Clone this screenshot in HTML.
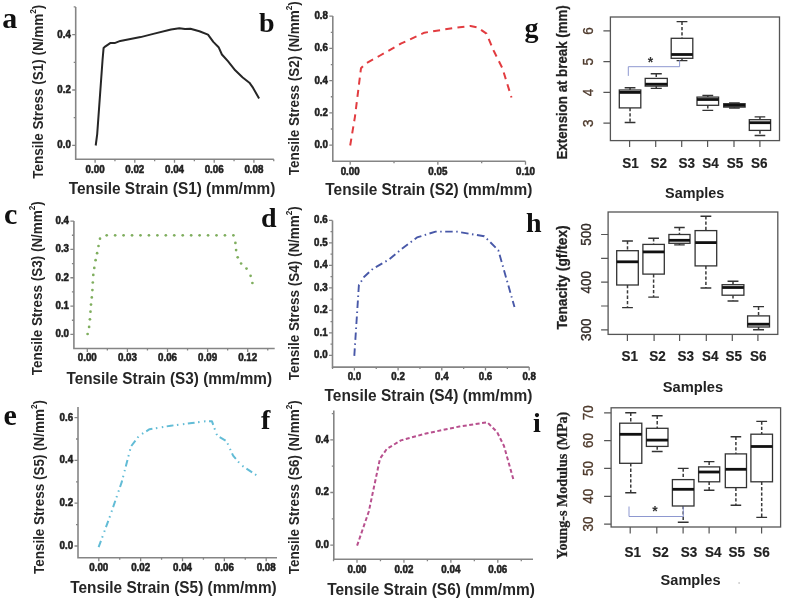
<!DOCTYPE html>
<html><head><meta charset="utf-8"><style>
html,body{margin:0;padding:0;background:#fff;}
body{width:789px;height:603px;overflow:hidden;}
svg{display:block;font-family:"Liberation Sans",sans-serif;filter:blur(0.45px);}
</style></head><body>
<svg width="789" height="603" viewBox="0 0 789 603">
<rect width="789" height="603" fill="#fff"/>
<path d="M75.7,7V159.3H273.8" fill="none" stroke="#858585" stroke-width="1.6"/>
<path d="M75.7,145.40h-3.5M75.7,90.00h-3.5M75.7,34.60h-3.5M75.7,117.70h-2M75.7,62.30h-2M75.7,6.90h-2M95.10,159.3v3.5M134.80,159.3v3.5M174.50,159.3v3.5M214.20,159.3v3.5M253.90,159.3v3.5M114.95,159.3v2M154.65,159.3v2M194.35,159.3v2M234.05,159.3v2M273.75,159.3v2" fill="none" stroke="#858585" stroke-width="1.3"/>
<text x="70.80" y="148.30" font-size="10.8" font-weight="bold" text-anchor="end" fill="#222" stroke="#222" stroke-width="0.55" textLength="13.50" lengthAdjust="spacingAndGlyphs">0.0</text>
<text x="70.80" y="92.90" font-size="10.8" font-weight="bold" text-anchor="end" fill="#222" stroke="#222" stroke-width="0.55" textLength="13.50" lengthAdjust="spacingAndGlyphs">0.2</text>
<text x="70.80" y="37.50" font-size="10.8" font-weight="bold" text-anchor="end" fill="#222" stroke="#222" stroke-width="0.55" textLength="13.50" lengthAdjust="spacingAndGlyphs">0.4</text>
<text x="95.10" y="172.70" font-size="10.8" font-weight="bold" text-anchor="middle" fill="#222" stroke="#222" stroke-width="0.55" textLength="19.00" lengthAdjust="spacingAndGlyphs">0.00</text>
<text x="134.80" y="172.70" font-size="10.8" font-weight="bold" text-anchor="middle" fill="#222" stroke="#222" stroke-width="0.55" textLength="19.00" lengthAdjust="spacingAndGlyphs">0.02</text>
<text x="174.50" y="172.70" font-size="10.8" font-weight="bold" text-anchor="middle" fill="#222" stroke="#222" stroke-width="0.55" textLength="19.00" lengthAdjust="spacingAndGlyphs">0.04</text>
<text x="214.20" y="172.70" font-size="10.8" font-weight="bold" text-anchor="middle" fill="#222" stroke="#222" stroke-width="0.55" textLength="19.00" lengthAdjust="spacingAndGlyphs">0.06</text>
<text x="253.90" y="172.70" font-size="10.8" font-weight="bold" text-anchor="middle" fill="#222" stroke="#222" stroke-width="0.55" textLength="19.00" lengthAdjust="spacingAndGlyphs">0.08</text>
<text x="68.7" y="193.6" font-size="16" font-weight="bold" fill="#262626" textLength="206.7" lengthAdjust="spacingAndGlyphs">Tensile Strain (S1) (mm/mm)</text>
<text transform="translate(43.3,178.7) rotate(-90)" font-size="14" font-weight="bold" fill="#262626" textLength="174" lengthAdjust="spacingAndGlyphs">Tensile Stress (S1) (N/mm<tspan font-size="8.5" dy="-7">2</tspan><tspan dy="7">)</tspan></text>
<polyline points="95.7,145.5 97.2,134.1 102.6,59.3 103.6,47.9 105.1,46.6 110.2,43.1 114.6,43.1 120.3,40.9 140.6,37.1 153.3,33.9 171,29.5 179.3,28.2 185,29.1 190.4,28.7 199.4,31.2 208,34.6 213.3,41.9 218.6,47.2 221.9,54.5 227.9,61.2 235.2,70.3 242.7,77.5 249.4,82.7 253.1,87.9 259.1,98.4" fill="none" stroke="#262626" stroke-width="2" stroke-linejoin="round" />
<text x="2.3" y="28" font-family="Liberation Serif" font-size="30" font-weight="bold" fill="#111">a</text>
<path d="M332.8,16V161.3H525.5" fill="none" stroke="#858585" stroke-width="1.6"/>
<path d="M332.8,145.10h-3.5M332.8,112.88h-3.5M332.8,80.65h-3.5M332.8,48.42h-3.5M332.8,16.20h-3.5M332.8,128.99h-2M332.8,96.76h-2M332.8,64.54h-2M332.8,32.31h-2M350.20,161.3v3.5M437.85,161.3v3.5M525.50,161.3v3.5M394.02,161.3v2M481.67,161.3v2" fill="none" stroke="#858585" stroke-width="1.3"/>
<text x="327.90" y="148.00" font-size="10.8" font-weight="bold" text-anchor="end" fill="#222" stroke="#222" stroke-width="0.55" textLength="13.50" lengthAdjust="spacingAndGlyphs">0.0</text>
<text x="327.90" y="115.78" font-size="10.8" font-weight="bold" text-anchor="end" fill="#222" stroke="#222" stroke-width="0.55" textLength="13.50" lengthAdjust="spacingAndGlyphs">0.2</text>
<text x="327.90" y="83.55" font-size="10.8" font-weight="bold" text-anchor="end" fill="#222" stroke="#222" stroke-width="0.55" textLength="13.50" lengthAdjust="spacingAndGlyphs">0.4</text>
<text x="327.90" y="51.32" font-size="10.8" font-weight="bold" text-anchor="end" fill="#222" stroke="#222" stroke-width="0.55" textLength="13.50" lengthAdjust="spacingAndGlyphs">0.6</text>
<text x="327.90" y="19.10" font-size="10.8" font-weight="bold" text-anchor="end" fill="#222" stroke="#222" stroke-width="0.55" textLength="13.50" lengthAdjust="spacingAndGlyphs">0.8</text>
<text x="350.20" y="174.90" font-size="10.8" font-weight="bold" text-anchor="middle" fill="#222" stroke="#222" stroke-width="0.55" textLength="19.00" lengthAdjust="spacingAndGlyphs">0.00</text>
<text x="437.85" y="174.90" font-size="10.8" font-weight="bold" text-anchor="middle" fill="#222" stroke="#222" stroke-width="0.55" textLength="19.00" lengthAdjust="spacingAndGlyphs">0.05</text>
<text x="525.50" y="174.90" font-size="10.8" font-weight="bold" text-anchor="middle" fill="#222" stroke="#222" stroke-width="0.55" textLength="19.00" lengthAdjust="spacingAndGlyphs">0.10</text>
<text x="325.3" y="195.2" font-size="16" font-weight="bold" fill="#262626" textLength="206.99999999999994" lengthAdjust="spacingAndGlyphs">Tensile Strain (S2) (mm/mm)</text>
<text transform="translate(299.4,175.2) rotate(-90)" font-size="14" font-weight="bold" fill="#262626" textLength="174" lengthAdjust="spacingAndGlyphs">Tensile Stress (S2) (N/mm<tspan font-size="8.5" dy="-7">2</tspan><tspan dy="7">)</tspan></text>
<polyline points="350.2,145.5 354.9,117.1 361,68.2 365.5,63.7 380.1,55.5 401.3,43.4 424.4,32.7 454.5,27.8 470.5,26 477.6,27.4 486.5,33.6 493.6,50.5 502.4,68.2 511.5,97.5" fill="none" stroke="#e23c40" stroke-width="2" stroke-linejoin="round" stroke-dasharray="7,5.3"/>
<text x="259" y="31.5" font-family="Liberation Serif" font-size="28" font-weight="bold" fill="#111">b</text>
<path d="M73.9,220.9V348.5H274.7" fill="none" stroke="#858585" stroke-width="1.6"/>
<path d="M73.9,334.40h-3.5M73.9,306.07h-3.5M73.9,277.75h-3.5M73.9,249.43h-3.5M73.9,221.10h-3.5M73.9,320.24h-2M73.9,291.91h-2M73.9,263.59h-2M73.9,235.26h-2M87.30,348.5v3.5M127.40,348.5v3.5M167.50,348.5v3.5M207.60,348.5v3.5M247.70,348.5v3.5M107.35,348.5v2M147.45,348.5v2M187.55,348.5v2M227.65,348.5v2M267.75,348.5v2" fill="none" stroke="#858585" stroke-width="1.3"/>
<text x="69.00" y="337.30" font-size="10.8" font-weight="bold" text-anchor="end" fill="#222" stroke="#222" stroke-width="0.55" textLength="13.50" lengthAdjust="spacingAndGlyphs">0.0</text>
<text x="69.00" y="308.97" font-size="10.8" font-weight="bold" text-anchor="end" fill="#222" stroke="#222" stroke-width="0.55" textLength="13.50" lengthAdjust="spacingAndGlyphs">0.1</text>
<text x="69.00" y="280.65" font-size="10.8" font-weight="bold" text-anchor="end" fill="#222" stroke="#222" stroke-width="0.55" textLength="13.50" lengthAdjust="spacingAndGlyphs">0.2</text>
<text x="69.00" y="252.33" font-size="10.8" font-weight="bold" text-anchor="end" fill="#222" stroke="#222" stroke-width="0.55" textLength="13.50" lengthAdjust="spacingAndGlyphs">0.3</text>
<text x="69.00" y="224.00" font-size="10.8" font-weight="bold" text-anchor="end" fill="#222" stroke="#222" stroke-width="0.55" textLength="13.50" lengthAdjust="spacingAndGlyphs">0.4</text>
<text x="87.30" y="360.50" font-size="10.8" font-weight="bold" text-anchor="middle" fill="#222" stroke="#222" stroke-width="0.55" textLength="19.00" lengthAdjust="spacingAndGlyphs">0.00</text>
<text x="127.40" y="360.50" font-size="10.8" font-weight="bold" text-anchor="middle" fill="#222" stroke="#222" stroke-width="0.55" textLength="19.00" lengthAdjust="spacingAndGlyphs">0.03</text>
<text x="167.50" y="360.50" font-size="10.8" font-weight="bold" text-anchor="middle" fill="#222" stroke="#222" stroke-width="0.55" textLength="19.00" lengthAdjust="spacingAndGlyphs">0.06</text>
<text x="207.60" y="360.50" font-size="10.8" font-weight="bold" text-anchor="middle" fill="#222" stroke="#222" stroke-width="0.55" textLength="19.00" lengthAdjust="spacingAndGlyphs">0.09</text>
<text x="247.70" y="360.50" font-size="10.8" font-weight="bold" text-anchor="middle" fill="#222" stroke="#222" stroke-width="0.55" textLength="19.00" lengthAdjust="spacingAndGlyphs">0.12</text>
<text x="66.5" y="383.8" font-size="16" font-weight="bold" fill="#262626" textLength="205.5" lengthAdjust="spacingAndGlyphs">Tensile Strain (S3) (mm/mm)</text>
<text transform="translate(41.6,375.2) rotate(-90)" font-size="14" font-weight="bold" fill="#262626" textLength="174" lengthAdjust="spacingAndGlyphs">Tensile Stress (S3) (N/mm<tspan font-size="8.5" dy="-7">2</tspan><tspan dy="7">)</tspan></text>
<circle cx="87.60" cy="334.00" r="1.35" fill="#7fae5e"/>
<circle cx="89.10" cy="326.90" r="1.35" fill="#7fae5e"/>
<circle cx="89.90" cy="319.30" r="1.35" fill="#7fae5e"/>
<circle cx="90.50" cy="311.70" r="1.35" fill="#7fae5e"/>
<circle cx="91.00" cy="304.60" r="1.35" fill="#7fae5e"/>
<circle cx="91.80" cy="297.40" r="1.35" fill="#7fae5e"/>
<circle cx="92.40" cy="290.10" r="1.35" fill="#7fae5e"/>
<circle cx="92.80" cy="282.50" r="1.35" fill="#7fae5e"/>
<circle cx="93.30" cy="274.90" r="1.35" fill="#7fae5e"/>
<circle cx="94.30" cy="267.90" r="1.35" fill="#7fae5e"/>
<circle cx="95.60" cy="260.20" r="1.35" fill="#7fae5e"/>
<circle cx="97.10" cy="253.20" r="1.35" fill="#7fae5e"/>
<circle cx="98.50" cy="246.00" r="1.35" fill="#7fae5e"/>
<circle cx="100.00" cy="238.70" r="1.35" fill="#7fae5e"/>
<circle cx="106.70" cy="235.30" r="1.35" fill="#7fae5e"/>
<circle cx="115.15" cy="235.30" r="1.35" fill="#7fae5e"/>
<circle cx="123.59" cy="235.30" r="1.35" fill="#7fae5e"/>
<circle cx="132.04" cy="235.30" r="1.35" fill="#7fae5e"/>
<circle cx="140.49" cy="235.30" r="1.35" fill="#7fae5e"/>
<circle cx="148.93" cy="235.30" r="1.35" fill="#7fae5e"/>
<circle cx="157.38" cy="235.30" r="1.35" fill="#7fae5e"/>
<circle cx="165.83" cy="235.30" r="1.35" fill="#7fae5e"/>
<circle cx="174.27" cy="235.30" r="1.35" fill="#7fae5e"/>
<circle cx="182.72" cy="235.30" r="1.35" fill="#7fae5e"/>
<circle cx="191.17" cy="235.30" r="1.35" fill="#7fae5e"/>
<circle cx="199.61" cy="235.30" r="1.35" fill="#7fae5e"/>
<circle cx="208.06" cy="235.30" r="1.35" fill="#7fae5e"/>
<circle cx="216.51" cy="235.30" r="1.35" fill="#7fae5e"/>
<circle cx="224.95" cy="235.30" r="1.35" fill="#7fae5e"/>
<circle cx="233.40" cy="235.30" r="1.35" fill="#7fae5e"/>
<circle cx="235.40" cy="242.90" r="1.35" fill="#7fae5e"/>
<circle cx="236.10" cy="250.10" r="1.35" fill="#7fae5e"/>
<circle cx="237.70" cy="257.30" r="1.35" fill="#7fae5e"/>
<circle cx="241.10" cy="263.50" r="1.35" fill="#7fae5e"/>
<circle cx="246.50" cy="268.60" r="1.35" fill="#7fae5e"/>
<circle cx="250.60" cy="275.80" r="1.35" fill="#7fae5e"/>
<circle cx="252.40" cy="283.00" r="1.35" fill="#7fae5e"/>
<text x="4" y="224" font-family="Liberation Serif" font-size="30" font-weight="bold" fill="#111">c</text>
<path d="M332.5,220.4V367.1H529.2" fill="none" stroke="#858585" stroke-width="1.6"/>
<path d="M332.5,355.40h-3.5M332.5,332.90h-3.5M332.5,310.40h-3.5M332.5,287.90h-3.5M332.5,265.40h-3.5M332.5,242.90h-3.5M332.5,220.40h-3.5M332.5,344.15h-2M332.5,321.65h-2M332.5,299.15h-2M332.5,276.65h-2M332.5,254.15h-2M332.5,231.65h-2M354.40,367.1v3.5M398.10,367.1v3.5M441.80,367.1v3.5M485.50,367.1v3.5M529.20,367.1v3.5M332.55,367.1v2M376.25,367.1v2M419.95,367.1v2M463.65,367.1v2M507.35,367.1v2" fill="none" stroke="#858585" stroke-width="1.3"/>
<text x="327.60" y="358.30" font-size="10.8" font-weight="bold" text-anchor="end" fill="#222" stroke="#222" stroke-width="0.55" textLength="13.50" lengthAdjust="spacingAndGlyphs">0.0</text>
<text x="327.60" y="335.80" font-size="10.8" font-weight="bold" text-anchor="end" fill="#222" stroke="#222" stroke-width="0.55" textLength="13.50" lengthAdjust="spacingAndGlyphs">0.1</text>
<text x="327.60" y="313.30" font-size="10.8" font-weight="bold" text-anchor="end" fill="#222" stroke="#222" stroke-width="0.55" textLength="13.50" lengthAdjust="spacingAndGlyphs">0.2</text>
<text x="327.60" y="290.80" font-size="10.8" font-weight="bold" text-anchor="end" fill="#222" stroke="#222" stroke-width="0.55" textLength="13.50" lengthAdjust="spacingAndGlyphs">0.3</text>
<text x="327.60" y="268.30" font-size="10.8" font-weight="bold" text-anchor="end" fill="#222" stroke="#222" stroke-width="0.55" textLength="13.50" lengthAdjust="spacingAndGlyphs">0.4</text>
<text x="327.60" y="245.80" font-size="10.8" font-weight="bold" text-anchor="end" fill="#222" stroke="#222" stroke-width="0.55" textLength="13.50" lengthAdjust="spacingAndGlyphs">0.5</text>
<text x="327.60" y="223.30" font-size="10.8" font-weight="bold" text-anchor="end" fill="#222" stroke="#222" stroke-width="0.55" textLength="13.50" lengthAdjust="spacingAndGlyphs">0.6</text>
<text x="354.40" y="380.20" font-size="10.8" font-weight="bold" text-anchor="middle" fill="#222" stroke="#222" stroke-width="0.55" textLength="13.50" lengthAdjust="spacingAndGlyphs">0.0</text>
<text x="398.10" y="380.20" font-size="10.8" font-weight="bold" text-anchor="middle" fill="#222" stroke="#222" stroke-width="0.55" textLength="13.50" lengthAdjust="spacingAndGlyphs">0.2</text>
<text x="441.80" y="380.20" font-size="10.8" font-weight="bold" text-anchor="middle" fill="#222" stroke="#222" stroke-width="0.55" textLength="13.50" lengthAdjust="spacingAndGlyphs">0.4</text>
<text x="485.50" y="380.20" font-size="10.8" font-weight="bold" text-anchor="middle" fill="#222" stroke="#222" stroke-width="0.55" textLength="13.50" lengthAdjust="spacingAndGlyphs">0.6</text>
<text x="529.20" y="380.20" font-size="10.8" font-weight="bold" text-anchor="middle" fill="#222" stroke="#222" stroke-width="0.55" textLength="13.50" lengthAdjust="spacingAndGlyphs">0.8</text>
<text x="324.5" y="401.3" font-size="16" font-weight="bold" fill="#262626" textLength="207.79999999999995" lengthAdjust="spacingAndGlyphs">Tensile Strain (S4) (mm/mm)</text>
<text transform="translate(299,380.2) rotate(-90)" font-size="14" font-weight="bold" fill="#262626" textLength="174" lengthAdjust="spacingAndGlyphs">Tensile Stress (S4) (N/mm<tspan font-size="8.5" dy="-7">2</tspan><tspan dy="7">)</tspan></text>
<polyline points="354.3,355.9 358.9,285 364,277 372.9,268.8 389.1,259.5 401,249.5 417,237.4 435.6,231.6 456.5,231.6 470.6,234 484.3,236.3 498.3,250.2 514.5,307.1" fill="none" stroke="#4858a8" stroke-width="1.9" stroke-linejoin="round" stroke-dasharray="7.5,3.5,1.5,3.5"/>
<text x="261" y="227" font-family="Liberation Serif" font-size="28" font-weight="bold" fill="#111">d</text>
<path d="M78,407.1V557.8H277" fill="none" stroke="#858585" stroke-width="1.6"/>
<path d="M78,546.00h-3.5M78,503.20h-3.5M78,460.40h-3.5M78,417.60h-3.5M78,524.60h-2M78,481.80h-2M78,439.00h-2M98.80,557.8v3.5M140.65,557.8v3.5M182.50,557.8v3.5M224.35,557.8v3.5M266.20,557.8v3.5M119.72,557.8v2M161.57,557.8v2M203.42,557.8v2M245.27,557.8v2" fill="none" stroke="#858585" stroke-width="1.3"/>
<text x="73.10" y="548.90" font-size="10.8" font-weight="bold" text-anchor="end" fill="#222" stroke="#222" stroke-width="0.55" textLength="13.50" lengthAdjust="spacingAndGlyphs">0.0</text>
<text x="73.10" y="506.10" font-size="10.8" font-weight="bold" text-anchor="end" fill="#222" stroke="#222" stroke-width="0.55" textLength="13.50" lengthAdjust="spacingAndGlyphs">0.2</text>
<text x="73.10" y="463.30" font-size="10.8" font-weight="bold" text-anchor="end" fill="#222" stroke="#222" stroke-width="0.55" textLength="13.50" lengthAdjust="spacingAndGlyphs">0.4</text>
<text x="73.10" y="420.50" font-size="10.8" font-weight="bold" text-anchor="end" fill="#222" stroke="#222" stroke-width="0.55" textLength="13.50" lengthAdjust="spacingAndGlyphs">0.6</text>
<text x="98.80" y="570.50" font-size="10.8" font-weight="bold" text-anchor="middle" fill="#222" stroke="#222" stroke-width="0.55" textLength="19.00" lengthAdjust="spacingAndGlyphs">0.00</text>
<text x="140.65" y="570.50" font-size="10.8" font-weight="bold" text-anchor="middle" fill="#222" stroke="#222" stroke-width="0.55" textLength="19.00" lengthAdjust="spacingAndGlyphs">0.02</text>
<text x="182.50" y="570.50" font-size="10.8" font-weight="bold" text-anchor="middle" fill="#222" stroke="#222" stroke-width="0.55" textLength="19.00" lengthAdjust="spacingAndGlyphs">0.04</text>
<text x="224.35" y="570.50" font-size="10.8" font-weight="bold" text-anchor="middle" fill="#222" stroke="#222" stroke-width="0.55" textLength="19.00" lengthAdjust="spacingAndGlyphs">0.06</text>
<text x="266.20" y="570.50" font-size="10.8" font-weight="bold" text-anchor="middle" fill="#222" stroke="#222" stroke-width="0.55" textLength="19.00" lengthAdjust="spacingAndGlyphs">0.08</text>
<text x="70.3" y="592.9" font-size="16" font-weight="bold" fill="#262626" textLength="206.39999999999998" lengthAdjust="spacingAndGlyphs">Tensile Strain (S5) (mm/mm)</text>
<text transform="translate(43.7,574) rotate(-90)" font-size="14" font-weight="bold" fill="#262626" textLength="174" lengthAdjust="spacingAndGlyphs">Tensile Stress (S5) (N/mm<tspan font-size="8.5" dy="-7">2</tspan><tspan dy="7">)</tspan></text>
<polyline points="98.6,547.2 109.8,516.7 121.7,482.2 131,446.4 139,435.8 149.6,429.2 170.8,425.7 192,423.1 205.3,421.2 211.9,421.2 217.2,435.8 226.5,441.1 233.1,455.7 241.1,465 257,475.6" fill="none" stroke="#62bcd6" stroke-width="2" stroke-linejoin="round" stroke-dasharray="6.8,3.5,1.5,4.5,1.5,3.5"/>
<text x="3.5" y="424.8" font-family="Liberation Serif" font-size="30" font-weight="bold" fill="#111">e</text>
<path d="M333.8,410.6V559.2H533" fill="none" stroke="#858585" stroke-width="1.6"/>
<path d="M333.8,545.10h-3.5M333.8,492.50h-3.5M333.8,439.90h-3.5M333.8,518.80h-2M333.8,466.20h-2M333.8,413.60h-2M357.00,559.2v3.5M403.93,559.2v3.5M450.87,559.2v3.5M497.80,559.2v3.5M333.53,559.2v2M380.47,559.2v2M427.40,559.2v2M474.33,559.2v2M521.27,559.2v2" fill="none" stroke="#858585" stroke-width="1.3"/>
<text x="328.90" y="548.00" font-size="10.8" font-weight="bold" text-anchor="end" fill="#222" stroke="#222" stroke-width="0.55" textLength="13.50" lengthAdjust="spacingAndGlyphs">0.0</text>
<text x="328.90" y="495.40" font-size="10.8" font-weight="bold" text-anchor="end" fill="#222" stroke="#222" stroke-width="0.55" textLength="13.50" lengthAdjust="spacingAndGlyphs">0.2</text>
<text x="328.90" y="442.80" font-size="10.8" font-weight="bold" text-anchor="end" fill="#222" stroke="#222" stroke-width="0.55" textLength="13.50" lengthAdjust="spacingAndGlyphs">0.4</text>
<text x="357.00" y="572.50" font-size="10.8" font-weight="bold" text-anchor="middle" fill="#222" stroke="#222" stroke-width="0.55" textLength="19.00" lengthAdjust="spacingAndGlyphs">0.00</text>
<text x="403.93" y="572.50" font-size="10.8" font-weight="bold" text-anchor="middle" fill="#222" stroke="#222" stroke-width="0.55" textLength="19.00" lengthAdjust="spacingAndGlyphs">0.02</text>
<text x="450.87" y="572.50" font-size="10.8" font-weight="bold" text-anchor="middle" fill="#222" stroke="#222" stroke-width="0.55" textLength="19.00" lengthAdjust="spacingAndGlyphs">0.04</text>
<text x="497.80" y="572.50" font-size="10.8" font-weight="bold" text-anchor="middle" fill="#222" stroke="#222" stroke-width="0.55" textLength="19.00" lengthAdjust="spacingAndGlyphs">0.06</text>
<text x="327.2" y="595.1" font-size="16" font-weight="bold" fill="#262626" textLength="207.59999999999997" lengthAdjust="spacingAndGlyphs">Tensile Strain (S6) (mm/mm)</text>
<text transform="translate(299,574.3) rotate(-90)" font-size="14" font-weight="bold" fill="#262626" textLength="174" lengthAdjust="spacingAndGlyphs">Tensile Stress (S6) (N/mm<tspan font-size="8.5" dy="-7">2</tspan><tspan dy="7">)</tspan></text>
<polyline points="357.1,545.6 368.8,511.5 380,458.6 386.9,448.8 400.9,440.4 426,433.5 459.4,426.5 487.3,422.3 497.1,432.1 504,446 513.8,480.9" fill="none" stroke="#b8508e" stroke-width="2" stroke-linejoin="round" stroke-dasharray="4,2.5"/>
<text x="261" y="429" font-family="Liberation Serif" font-size="28" font-weight="bold" fill="#111">f</text>
<rect x="610.4" y="17" width="169.10000000000002" height="123.6" fill="none" stroke="#555" stroke-width="1.3"/>
<path d="M610.4,123.20h-7M610.4,92.43h-7M610.4,61.67h-7M610.4,30.90h-7M629.60,140.6v6.5M655.70,140.6v6.5M681.70,140.6v6.5M707.60,140.6v6.5M734.00,140.6v6.5M759.90,140.6v6.5" fill="none" stroke="#555" stroke-width="1.2"/>
<text transform="translate(593.2,123.20) rotate(-90)" font-size="15" text-anchor="middle" fill="#4e3a2c" stroke="#4e3a2c" stroke-width="0.35" textLength="7.5" lengthAdjust="spacingAndGlyphs">3</text>
<text transform="translate(593.2,92.43) rotate(-90)" font-size="15" text-anchor="middle" fill="#4e3a2c" stroke="#4e3a2c" stroke-width="0.35" textLength="7.5" lengthAdjust="spacingAndGlyphs">4</text>
<text transform="translate(593.2,61.67) rotate(-90)" font-size="15" text-anchor="middle" fill="#4e3a2c" stroke="#4e3a2c" stroke-width="0.35" textLength="7.5" lengthAdjust="spacingAndGlyphs">5</text>
<text transform="translate(593.2,30.90) rotate(-90)" font-size="15" text-anchor="middle" fill="#4e3a2c" stroke="#4e3a2c" stroke-width="0.35" textLength="7.5" lengthAdjust="spacingAndGlyphs">6</text>
<text x="622.30" y="167.8" font-size="15.5" font-weight="bold" fill="#222" stroke="#222" stroke-width="0.2" textLength="16.5" lengthAdjust="spacingAndGlyphs">S1</text>
<text x="650.40" y="167.8" font-size="15.5" font-weight="bold" fill="#222" stroke="#222" stroke-width="0.2" textLength="16.5" lengthAdjust="spacingAndGlyphs">S2</text>
<text x="678.50" y="167.8" font-size="15.5" font-weight="bold" fill="#222" stroke="#222" stroke-width="0.2" textLength="16.5" lengthAdjust="spacingAndGlyphs">S3</text>
<text x="702.30" y="167.8" font-size="15.5" font-weight="bold" fill="#222" stroke="#222" stroke-width="0.2" textLength="16.5" lengthAdjust="spacingAndGlyphs">S4</text>
<text x="726.70" y="167.8" font-size="15.5" font-weight="bold" fill="#222" stroke="#222" stroke-width="0.2" textLength="16.5" lengthAdjust="spacingAndGlyphs">S5</text>
<text x="750.90" y="167.8" font-size="15.5" font-weight="bold" fill="#222" stroke="#222" stroke-width="0.2" textLength="16.5" lengthAdjust="spacingAndGlyphs">S6</text>
<text x="665.1" y="198.3" font-size="14" font-weight="bold" fill="#222" textLength="59.19999999999993" lengthAdjust="spacingAndGlyphs">Samples</text>
<text transform="translate(566.9,159.5) rotate(-90)" font-family="Liberation Sans" font-size="14" font-weight="bold" fill="#222" stroke="#222" stroke-width="0.25" textLength="154.2" lengthAdjust="spacingAndGlyphs">Extension at break (mm)</text>
<path d="M630.05,87.7V90M630.05,107.9V122.5" stroke="#3a3a3a" stroke-width="1.5" stroke-dasharray="3.3,2" fill="none"/>
<path d="M624.67,87.7h10.75M624.67,122.5h10.75" stroke="#333" stroke-width="1.4" fill="none"/>
<rect x="619.3" y="90" width="21.50" height="17.90" fill="#fff" stroke="#333" stroke-width="1.3"/>
<path d="M619.3,92.4H640.8" stroke="#111" stroke-width="2.8"/>
<path d="M656.25,73.8V78.4M656.25,86.1V88.4" stroke="#3a3a3a" stroke-width="1.5" stroke-dasharray="3.3,2" fill="none"/>
<path d="M650.73,73.8h11.05M650.73,88.4h11.05" stroke="#333" stroke-width="1.4" fill="none"/>
<rect x="645.2" y="78.4" width="22.10" height="7.70" fill="#fff" stroke="#333" stroke-width="1.3"/>
<path d="M645.2,84.2H667.3" stroke="#111" stroke-width="2.8"/>
<path d="M682.00,21.6V38.3M682.00,58.3V60.6" stroke="#3a3a3a" stroke-width="1.5" stroke-dasharray="3.3,2" fill="none"/>
<path d="M676.60,21.6h10.80M676.60,60.6h10.80" stroke="#333" stroke-width="1.4" fill="none"/>
<rect x="671.2" y="38.3" width="21.60" height="20.00" fill="#fff" stroke="#333" stroke-width="1.3"/>
<path d="M671.2,54.5H692.8" stroke="#111" stroke-width="2.8"/>
<path d="M707.80,95.5V97.1M707.80,105.3V110.4" stroke="#3a3a3a" stroke-width="1.5" stroke-dasharray="3.3,2" fill="none"/>
<path d="M702.40,95.5h10.80M702.40,110.4h10.80" stroke="#333" stroke-width="1.4" fill="none"/>
<rect x="697" y="97.1" width="21.60" height="8.20" fill="#fff" stroke="#333" stroke-width="1.3"/>
<path d="M697,99.5H718.6" stroke="#111" stroke-width="2.8"/>
<path d="M734.40,103V103.7M734.40,107.1V108" stroke="#3a3a3a" stroke-width="1.5" stroke-dasharray="3.3,2" fill="none"/>
<path d="M729.05,103h10.70M729.05,108h10.70" stroke="#333" stroke-width="1.4" fill="none"/>
<rect x="723.7" y="103.7" width="21.40" height="3.40" fill="#fff" stroke="#333" stroke-width="1.3"/>
<path d="M723.7,105.3H745.1" stroke="#111" stroke-width="2.8"/>
<path d="M759.95,116.9V119.7M759.95,130.4V135.5" stroke="#3a3a3a" stroke-width="1.5" stroke-dasharray="3.3,2" fill="none"/>
<path d="M754.62,116.9h10.65M754.62,135.5h10.65" stroke="#333" stroke-width="1.4" fill="none"/>
<rect x="749.3" y="119.7" width="21.30" height="10.70" fill="#fff" stroke="#333" stroke-width="1.3"/>
<path d="M749.3,122.7H770.6" stroke="#111" stroke-width="2.8"/>
<path d="M628.3,75.9V66.7H679.6V60.4" fill="none" stroke="#8e98d0" stroke-width="1"/>
<text x="650.4" y="66.5" font-size="14" font-weight="bold" text-anchor="middle" fill="#333">*</text>
<text x="524.5" y="36.5" font-family="Liberation Serif" font-size="28" font-weight="bold" fill="#111">g</text>
<rect x="608.1" y="212" width="169.69999999999993" height="122.39999999999998" fill="none" stroke="#555" stroke-width="1.3"/>
<path d="M608.1,329.80h-7M608.1,305.98h-7M608.1,282.15h-7M608.1,258.32h-7M608.1,234.50h-7M627.40,334.4v6.5M654.10,334.4v6.5M679.60,334.4v6.5M706.30,334.4v6.5M732.30,334.4v6.5M757.90,334.4v6.5" fill="none" stroke="#555" stroke-width="1.2"/>
<text transform="translate(591,329.80) rotate(-90)" font-size="15" text-anchor="middle" fill="#332c28" stroke="#332c28" stroke-width="0.35" textLength="22.5" lengthAdjust="spacingAndGlyphs">300</text>
<text transform="translate(591,282.15) rotate(-90)" font-size="15" text-anchor="middle" fill="#332c28" stroke="#332c28" stroke-width="0.35" textLength="22.5" lengthAdjust="spacingAndGlyphs">400</text>
<text transform="translate(591,234.50) rotate(-90)" font-size="15" text-anchor="middle" fill="#332c28" stroke="#332c28" stroke-width="0.35" textLength="22.5" lengthAdjust="spacingAndGlyphs">500</text>
<text x="621.50" y="360.7" font-size="15.5" font-weight="bold" fill="#222" stroke="#222" stroke-width="0.2" textLength="16.5" lengthAdjust="spacingAndGlyphs">S1</text>
<text x="649.30" y="360.7" font-size="15.5" font-weight="bold" fill="#222" stroke="#222" stroke-width="0.2" textLength="16.5" lengthAdjust="spacingAndGlyphs">S2</text>
<text x="677.50" y="360.7" font-size="15.5" font-weight="bold" fill="#222" stroke="#222" stroke-width="0.2" textLength="16.5" lengthAdjust="spacingAndGlyphs">S3</text>
<text x="701.90" y="360.7" font-size="15.5" font-weight="bold" fill="#222" stroke="#222" stroke-width="0.2" textLength="16.5" lengthAdjust="spacingAndGlyphs">S4</text>
<text x="725.60" y="360.7" font-size="15.5" font-weight="bold" fill="#222" stroke="#222" stroke-width="0.2" textLength="16.5" lengthAdjust="spacingAndGlyphs">S5</text>
<text x="749.90" y="360.7" font-size="15.5" font-weight="bold" fill="#222" stroke="#222" stroke-width="0.2" textLength="16.5" lengthAdjust="spacingAndGlyphs">S6</text>
<text x="662.7" y="392.3" font-size="14" font-weight="bold" fill="#222" textLength="60.39999999999998" lengthAdjust="spacingAndGlyphs">Samples</text>
<text transform="translate(567.3,329.6) rotate(-90)" font-family="Liberation Sans" font-size="14" font-weight="bold" fill="#222" stroke="#222" stroke-width="0.25" textLength="104.20000000000002" lengthAdjust="spacingAndGlyphs">Tenacity (gf/tex)</text>
<path d="M627.50,241V250.7M627.50,285V307.6" stroke="#3a3a3a" stroke-width="1.5" stroke-dasharray="3.3,2" fill="none"/>
<path d="M622.10,241h10.80M622.10,307.6h10.80" stroke="#333" stroke-width="1.4" fill="none"/>
<rect x="616.7" y="250.7" width="21.60" height="34.30" fill="#fff" stroke="#333" stroke-width="1.3"/>
<path d="M616.7,261.8H638.3" stroke="#111" stroke-width="2.8"/>
<path d="M653.60,238.2V244.4M653.60,274.1V297.1" stroke="#3a3a3a" stroke-width="1.5" stroke-dasharray="3.3,2" fill="none"/>
<path d="M648.25,238.2h10.70M648.25,297.1h10.70" stroke="#333" stroke-width="1.4" fill="none"/>
<rect x="642.9" y="244.4" width="21.40" height="29.70" fill="#fff" stroke="#333" stroke-width="1.3"/>
<path d="M642.9,251.9H664.3" stroke="#111" stroke-width="2.8"/>
<path d="M679.45,227.5V234.5M679.45,243.3V244.9" stroke="#3a3a3a" stroke-width="1.5" stroke-dasharray="3.3,2" fill="none"/>
<path d="M674.18,227.5h10.55M674.18,244.9h10.55" stroke="#333" stroke-width="1.4" fill="none"/>
<rect x="668.9" y="234.5" width="21.10" height="8.80" fill="#fff" stroke="#333" stroke-width="1.3"/>
<path d="M668.9,240.3H690" stroke="#111" stroke-width="2.8"/>
<path d="M705.90,216.2V230.6M705.90,265.9V288" stroke="#3a3a3a" stroke-width="1.5" stroke-dasharray="3.3,2" fill="none"/>
<path d="M700.50,216.2h10.80M700.50,288h10.80" stroke="#333" stroke-width="1.4" fill="none"/>
<rect x="695.1" y="230.6" width="21.60" height="35.30" fill="#fff" stroke="#333" stroke-width="1.3"/>
<path d="M695.1,242.6H716.7" stroke="#111" stroke-width="2.8"/>
<path d="M733.00,281.2V284.7M733.00,295.2V301" stroke="#3a3a3a" stroke-width="1.5" stroke-dasharray="3.3,2" fill="none"/>
<path d="M727.55,281.2h10.90M727.55,301h10.90" stroke="#333" stroke-width="1.4" fill="none"/>
<rect x="722.1" y="284.7" width="21.80" height="10.50" fill="#fff" stroke="#333" stroke-width="1.3"/>
<path d="M722.1,287.5H743.9" stroke="#111" stroke-width="2.8"/>
<path d="M758.55,306.6V315.9M758.55,327V329.8" stroke="#3a3a3a" stroke-width="1.5" stroke-dasharray="3.3,2" fill="none"/>
<path d="M753.07,306.6h10.95M753.07,329.8h10.95" stroke="#333" stroke-width="1.4" fill="none"/>
<rect x="747.6" y="315.9" width="21.90" height="11.10" fill="#fff" stroke="#333" stroke-width="1.3"/>
<path d="M747.6,324.2H769.5" stroke="#111" stroke-width="2.8"/>
<text x="526" y="232" font-family="Liberation Serif" font-size="28" font-weight="bold" fill="#111">h</text>
<rect x="611.1" y="407.8" width="169.5" height="119.19999999999999" fill="none" stroke="#555" stroke-width="1.3"/>
<path d="M611.1,524.10h-7M611.1,496.28h-7M611.1,468.45h-7M611.1,440.62h-7M611.1,412.80h-7M630.20,527v6.5M656.80,527v6.5M683.10,527v6.5M709.10,527v6.5M735.80,527v6.5M761.60,527v6.5" fill="none" stroke="#555" stroke-width="1.2"/>
<text transform="translate(593,524.10) rotate(-90)" font-size="15" text-anchor="middle" fill="#4e3a2c" stroke="#4e3a2c" stroke-width="0.35" textLength="15.0" lengthAdjust="spacingAndGlyphs">30</text>
<text transform="translate(593,496.28) rotate(-90)" font-size="15" text-anchor="middle" fill="#4e3a2c" stroke="#4e3a2c" stroke-width="0.35" textLength="15.0" lengthAdjust="spacingAndGlyphs">40</text>
<text transform="translate(593,468.45) rotate(-90)" font-size="15" text-anchor="middle" fill="#4e3a2c" stroke="#4e3a2c" stroke-width="0.35" textLength="15.0" lengthAdjust="spacingAndGlyphs">50</text>
<text transform="translate(593,440.62) rotate(-90)" font-size="15" text-anchor="middle" fill="#4e3a2c" stroke="#4e3a2c" stroke-width="0.35" textLength="15.0" lengthAdjust="spacingAndGlyphs">60</text>
<text transform="translate(593,412.80) rotate(-90)" font-size="15" text-anchor="middle" fill="#4e3a2c" stroke="#4e3a2c" stroke-width="0.35" textLength="15.0" lengthAdjust="spacingAndGlyphs">70</text>
<text x="624.50" y="556.9" font-size="15.5" font-weight="bold" fill="#222" stroke="#222" stroke-width="0.2" textLength="16.5" lengthAdjust="spacingAndGlyphs">S1</text>
<text x="652.30" y="556.9" font-size="15.5" font-weight="bold" fill="#222" stroke="#222" stroke-width="0.2" textLength="16.5" lengthAdjust="spacingAndGlyphs">S2</text>
<text x="680.70" y="556.9" font-size="15.5" font-weight="bold" fill="#222" stroke="#222" stroke-width="0.2" textLength="16.5" lengthAdjust="spacingAndGlyphs">S3</text>
<text x="705.00" y="556.9" font-size="15.5" font-weight="bold" fill="#222" stroke="#222" stroke-width="0.2" textLength="16.5" lengthAdjust="spacingAndGlyphs">S4</text>
<text x="728.60" y="556.9" font-size="15.5" font-weight="bold" fill="#222" stroke="#222" stroke-width="0.2" textLength="16.5" lengthAdjust="spacingAndGlyphs">S5</text>
<text x="753.30" y="556.9" font-size="15.5" font-weight="bold" fill="#222" stroke="#222" stroke-width="0.2" textLength="16.5" lengthAdjust="spacingAndGlyphs">S6</text>
<text x="660.6" y="584.7" font-size="14" font-weight="bold" fill="#222" textLength="59.89999999999998" lengthAdjust="spacingAndGlyphs">Samples</text>
<text transform="translate(567.4,559.2) rotate(-90)" font-family="Liberation Serif" font-size="15" font-weight="bold" fill="#222" stroke="#222" stroke-width="0.25" textLength="147.50000000000006" lengthAdjust="spacingAndGlyphs">Young-s Modulus (MPa)</text>
<path d="M630.75,412.8V423.2M630.75,463.3V492.8" stroke="#3a3a3a" stroke-width="1.5" stroke-dasharray="3.3,2" fill="none"/>
<path d="M625.23,412.8h11.05M625.23,492.8h11.05" stroke="#333" stroke-width="1.4" fill="none"/>
<rect x="619.7" y="423.2" width="22.10" height="40.10" fill="#fff" stroke="#333" stroke-width="1.3"/>
<path d="M619.7,434.3H641.8" stroke="#111" stroke-width="2.8"/>
<path d="M657.20,415.8V428.3M657.20,446.4V451.5" stroke="#3a3a3a" stroke-width="1.5" stroke-dasharray="3.3,2" fill="none"/>
<path d="M651.80,415.8h10.80M651.80,451.5h10.80" stroke="#333" stroke-width="1.4" fill="none"/>
<rect x="646.4" y="428.3" width="21.60" height="18.10" fill="#fff" stroke="#333" stroke-width="1.3"/>
<path d="M646.4,440.1H668" stroke="#111" stroke-width="2.8"/>
<path d="M683.20,468.4V479.6M683.20,506V522.3" stroke="#3a3a3a" stroke-width="1.5" stroke-dasharray="3.3,2" fill="none"/>
<path d="M677.80,468.4h10.80M677.80,522.3h10.80" stroke="#333" stroke-width="1.4" fill="none"/>
<rect x="672.4" y="479.6" width="21.60" height="26.40" fill="#fff" stroke="#333" stroke-width="1.3"/>
<path d="M672.4,489.3H694" stroke="#111" stroke-width="2.8"/>
<path d="M709.15,461.6V466.9M709.15,481.8V490.2" stroke="#3a3a3a" stroke-width="1.5" stroke-dasharray="3.3,2" fill="none"/>
<path d="M703.88,461.6h10.55M703.88,490.2h10.55" stroke="#333" stroke-width="1.4" fill="none"/>
<rect x="698.6" y="466.9" width="21.10" height="14.90" fill="#fff" stroke="#333" stroke-width="1.3"/>
<path d="M698.6,472H719.7" stroke="#111" stroke-width="2.8"/>
<path d="M735.90,436.7V453.9M735.90,487.6V505.3" stroke="#3a3a3a" stroke-width="1.5" stroke-dasharray="3.3,2" fill="none"/>
<path d="M730.60,436.7h10.60M730.60,505.3h10.60" stroke="#333" stroke-width="1.4" fill="none"/>
<rect x="725.3" y="453.9" width="21.20" height="33.70" fill="#fff" stroke="#333" stroke-width="1.3"/>
<path d="M725.3,469.3H746.5" stroke="#111" stroke-width="2.8"/>
<path d="M761.70,421.4V434.2M761.70,481.8V517.4" stroke="#3a3a3a" stroke-width="1.5" stroke-dasharray="3.3,2" fill="none"/>
<path d="M756.30,421.4h10.80M756.30,517.4h10.80" stroke="#333" stroke-width="1.4" fill="none"/>
<rect x="750.9" y="434.2" width="21.60" height="47.60" fill="#fff" stroke="#333" stroke-width="1.3"/>
<path d="M750.9,446.5H772.5" stroke="#111" stroke-width="2.8"/>
<path d="M629,506.5V516.5H683.3V506.5" fill="none" stroke="#8e98d0" stroke-width="1"/>
<text x="655" y="515.5" font-size="14" font-weight="bold" text-anchor="middle" fill="#333">*</text>
<text x="533" y="432.3" font-family="Liberation Serif" font-size="28" font-weight="bold" fill="#111">i</text>
<circle cx="739.1" cy="583" r="0.8" fill="#aaa"/>
</svg>
</body></html>
